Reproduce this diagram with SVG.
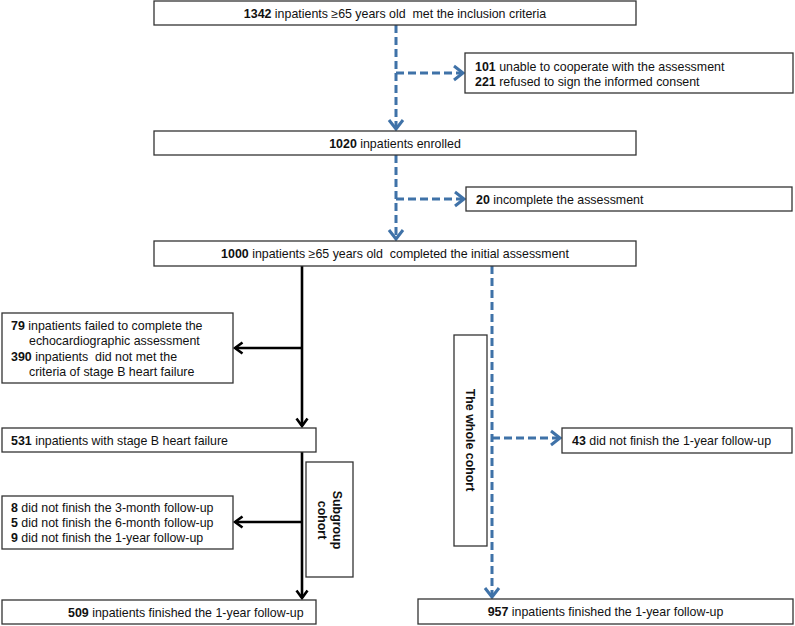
<svg xmlns="http://www.w3.org/2000/svg" width="795" height="626" viewBox="0 0 795 626">
<style>
.box{fill:#fff;stroke:#333;stroke-width:1.3}
text{font-family:"Liberation Sans",Arial,sans-serif;font-size:12.4px;fill:#111}
.b{font-weight:bold}
.dash{fill:none;stroke:#3f72a8;stroke-width:3;stroke-dasharray:8,4}
.solid{fill:none;stroke:#000;stroke-width:2.6}
</style>
<defs>
<marker id="ab" markerUnits="userSpaceOnUse" markerWidth="18" markerHeight="18" refX="14" refY="9" orient="auto">
<path d="M5,2 L14,9 L5,16" fill="none" stroke="#3f72a8" stroke-width="3"/>
</marker>
<marker id="ak" markerUnits="userSpaceOnUse" markerWidth="16" markerHeight="16" refX="13" refY="8" orient="auto">
<path d="M5.5,2.5 L13,8 L5.5,13.5" fill="none" stroke="#000" stroke-width="2.6"/>
</marker>
</defs>
<g id="connectors">
<path class="dash" d="M396,25 V129" marker-end="url(#ab)"/>
<path class="dash" d="M396,73 H463" marker-end="url(#ab)"/>
<path class="dash" d="M396,155 V239" marker-end="url(#ab)"/>
<path class="dash" d="M396,199 H464" marker-end="url(#ab)"/>
<path class="dash" d="M492,266 V597" marker-end="url(#ab)"/>
<path class="dash" d="M492,438 H560" marker-end="url(#ab)"/>
<path class="solid" d="M302,266 V426" marker-end="url(#ak)"/>
<path class="solid" d="M302,348 H235" marker-end="url(#ak)"/>
<path class="solid" d="M302,452 V598" marker-end="url(#ak)"/>
<path class="solid" d="M302,522 H235" marker-end="url(#ak)"/>
</g>
<g id="n1342">
<rect class="box" x="154" y="1" width="482" height="24"/>
<text x="395" y="17.5" text-anchor="middle" xml:space="preserve"><tspan class="b">1342</tspan> inpatients ≥65 years old  met the inclusion criteria</text>
</g>
<g id="nexcl1">
<rect class="box" x="465" y="53" width="328" height="40"/>
<text x="475" y="70.5"><tspan class="b">101</tspan> unable to cooperate with the assessment</text>
<text x="475" y="85.5"><tspan class="b">221</tspan> refused to sign the informed consent</text>
</g>
<g id="n1020">
<rect class="box" x="154" y="131" width="482" height="24"/>
<text x="395" y="147.5" text-anchor="middle"><tspan class="b">1020</tspan> inpatients enrolled</text>
</g>
<g id="nexcl2">
<rect class="box" x="466" y="187" width="326" height="24"/>
<text x="476" y="203.5"><tspan class="b">20</tspan> incomplete the assessment</text>
</g>
<g id="n1000">
<rect class="box" x="154" y="241" width="482" height="25"/>
<text x="395" y="258" text-anchor="middle" xml:space="preserve"><tspan class="b">1000</tspan> inpatients ≥65 years old  completed the initial assessment</text>
</g>
<g id="nexcl3">
<rect class="box" x="2" y="313" width="231" height="70"/>
<text x="11" y="329.5"><tspan class="b">79</tspan> inpatients failed to complete the</text>
<text x="29" y="345">echocardiographic assessment</text>
<text x="11" y="360.5" xml:space="preserve"><tspan class="b">390</tspan> inpatients  did not met the</text>
<text x="29" y="376">criteria of stage B heart failure</text>
</g>
<g id="n531">
<rect class="box" x="2" y="428" width="314" height="24"/>
<text x="11" y="444.5"><tspan class="b">531</tspan> inpatients with stage B heart failure</text>
</g>
<g id="nsubgroup">
<rect class="box" x="306" y="462" width="47" height="115"/>
<text class="b" transform="translate(330,520) rotate(90)" x="0" y="-3" text-anchor="middle">Subgroup</text>
<text class="b" transform="translate(330,520) rotate(90)" x="0" y="12" text-anchor="middle">cohort</text>
</g>
<g id="nexcl4">
<rect class="box" x="2" y="496" width="231" height="53"/>
<text x="11" y="511.5"><tspan class="b">8</tspan> did not finish the 3-month follow-up</text>
<text x="11" y="526.5"><tspan class="b">5</tspan> did not finish the 6-month follow-up</text>
<text x="11" y="541.5"><tspan class="b">9</tspan> did not finish the 1-year follow-up</text>
</g>
<g id="n509">
<rect class="box" x="2" y="600" width="314" height="24"/>
<text x="68" y="616.5"><tspan class="b">509</tspan> inpatients finished the 1-year follow-up</text>
</g>
<g id="nwhole">
<rect class="box" x="454" y="335" width="33" height="211"/>
<text class="b" transform="translate(470.5,440) rotate(90)" x="0" y="4.5" text-anchor="middle">The whole cohort</text>
</g>
<g id="nexcl5">
<rect class="box" x="562" y="428" width="230" height="25"/>
<text x="572" y="444.5"><tspan class="b">43</tspan> did not finish the 1-year follow-up</text>
</g>
<g id="n957">
<rect class="box" x="418" y="599" width="375" height="25"/>
<text x="605.5" y="616" text-anchor="middle"><tspan class="b">957</tspan> inpatients finished the 1-year follow-up</text>
</g>
</svg>
